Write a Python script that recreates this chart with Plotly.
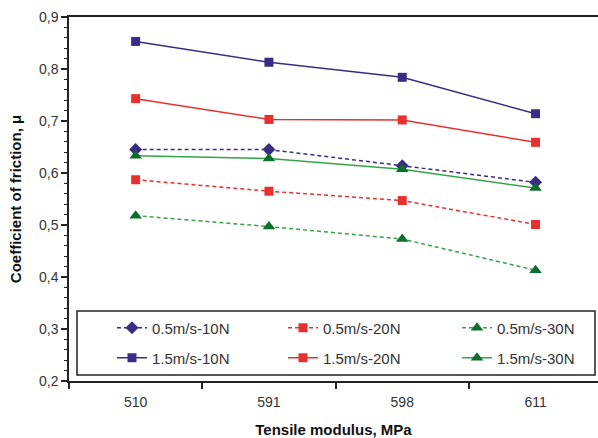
import plotly.graph_objects as go

categories = ["510", "591", "598", "611"]
series_names = ["0.5m/s-10N", "0.5m/s-20N", "0.5m/s-30N",
                "1.5m/s-10N", "1.5m/s-20N", "1.5m/s-30N"]
v_05_10 = [0.645, 0.645, 0.614, 0.582]
v_05_20 = [0.587, 0.565, 0.547, 0.501]
v_05_30 = [0.518, 0.497, 0.473, 0.413]
v_15_10 = [0.853, 0.813, 0.784, 0.714]
v_15_20 = [0.743, 0.703, 0.702, 0.659]
v_15_30 = [0.633, 0.628, 0.607, 0.571]

navy = "#3A2C84"
red = "#E8302F"
green_line = "#35A347"
green_mk = "#0B6E2C"

specs = [
    (series_names[0], v_05_10, navy, navy, "diamond", 10, "4px,3px"),
    (series_names[1], v_05_20, red, red, "square", 9, "4px,3px"),
    (series_names[2], v_05_30, green_line, green_mk, "triangle-up", 11, "4px,3px"),
    (series_names[3], v_15_10, navy, navy, "square", 9, "solid"),
    (series_names[4], v_15_20, red, red, "square", 9, "solid"),
    (series_names[5], v_15_30, green_line, green_mk, "triangle-up", 11, "solid"),
]

font = "Liberation Sans, Arial, sans-serif"
col_text_x = [152, 323, 497]
row_y = [328, 358]

fig = go.Figure()
legends = {}
for i, (name, vals, lc, mc, sym, ms, dash) in enumerate(specs):
    key = "legend" if i == 0 else f"legend{i + 1}"
    fig.add_trace(go.Scatter(
        x=categories, y=vals, name=name, mode="lines+markers",
        line=dict(color=lc, width=1.5, dash=dash),
        marker=dict(color=mc, symbol=sym, size=ms, line=dict(width=0)),
        legend=key,
    ))
    col, row = i % 3, i // 3
    legends[key] = dict(
        x=(col_text_x[col] - 40 - 69) / 529, y=(381 - row_y[row]) / 364,
        xanchor="left", yanchor="middle", orientation="h",
        bgcolor="rgba(0,0,0,0)", borderwidth=0,
        font=dict(family=font, size=15, color="#333333"),
        itemclick=False, itemdoubleclick=False,
    )

fig.update_layout(
    width=598, height=438,
    margin=dict(l=69, r=0, t=17, b=57),
    paper_bgcolor="white", plot_bgcolor="white",
    separators=", ",
    font=dict(family=font, size=14, color="#333333"),
    showlegend=True,
    shapes=[dict(type="rect", xref="paper", yref="paper",
                 x0=(77 - 69) / 529, x1=(595 - 69) / 529,
                 y0=(381 - 375) / 364, y1=(381 - 311) / 364,
                 line=dict(color="#222222", width=1.5),
                 fillcolor="white", layer="above")],
    **legends,
)

fig.update_xaxes(
    type="category", range=[-0.5, -0.5 + 529 / 133.3],
    showline=True, linecolor="#222222", linewidth=1.5, mirror=True,
    ticks="outside", tickson="boundaries", ticklen=6, tickwidth=1.5,
    tickcolor="#222222", showgrid=False, zeroline=False,
    ticklabelstandoff=7,
    tickfont=dict(size=14, color="#333333"),
    title=dict(text="<b>Tensile modulus, MPa</b>", standoff=16,
               font=dict(size=15, color="#111111")),
)
fig.update_yaxes(
    range=[0.2, 0.9], dtick=0.1, tickformat=".1f",
    showline=True, linecolor="#222222", linewidth=1.5,
    ticks="outside", ticklen=6, tickwidth=1.5, tickcolor="#222222",
    minor=dict(dtick=0.02, ticks="outside", ticklen=3, tickcolor="#222222", tickwidth=1),
    showgrid=False, zeroline=False,
    tickfont=dict(size=14, color="#333333"),
    title=dict(text="<b>Coefficient of friction, μ</b>", standoff=14,
               font=dict(size=15, color="#111111")),
)

fig.write_html("out.html")
